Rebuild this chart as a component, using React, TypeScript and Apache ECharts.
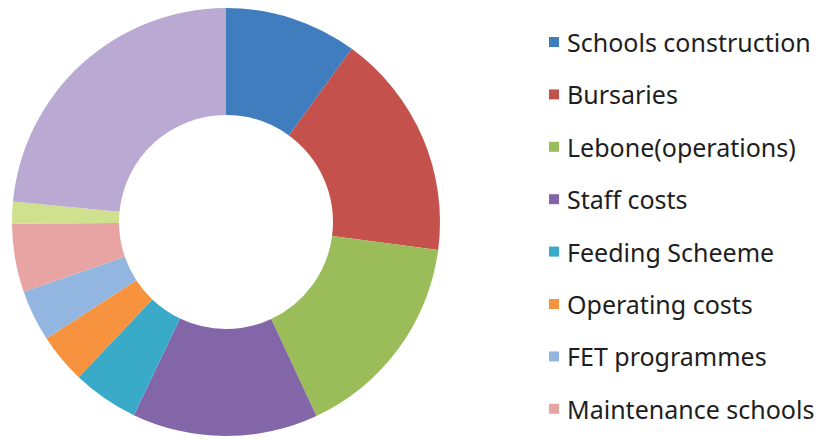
import React, { useEffect, useRef } from "react";
import * as echarts from "echarts";

const categories = [
  "Schools construction",
  "Bursaries",
  "Lebone(operations)",
  "Staff costs",
  "Feeding Scheeme",
  "Operating costs",
  "FET programmes",
  "Maintenance schools",
  "Other item 9",
  "Other item 10",
];
const legendNames = categories.slice(0, 8);
// slice sizes in degrees of the ring
const values = [36, 61.5, 57.5, 50.5, 18, 13.5, 14, 18.5, 6, 84.5];
const colors = [
  "#3F7DBE",
  "#C4514B",
  "#9BBD59",
  "#8366A8",
  "#39AAC8",
  "#F7933E",
  "#93B6E0",
  "#E8A3A3",
  "#CFE08F",
  "#B9A9D3",
];

export default function App() {
  const ref = useRef<HTMLDivElement>(null);
  useEffect(() => {
    if (!ref.current) return;
    const chart = echarts.init(ref.current, undefined, { renderer: "svg" });
    chart.setOption({
      animation: false,
      backgroundColor: "#ffffff",
      color: colors,
      legend: {
        orient: "vertical",
        left: 544,
        top: 24.5,
        data: legendNames,
        icon: "rect",
        itemWidth: 10,
        itemHeight: 10,
        itemGap: 27.4,
        textStyle: {
          fontFamily: "Noto Sans",
          fontSize: 25,
          lineHeight: 25,
          color: "#1e1e1e",
          padding: [0, 0, 0, 3],
        },
        selectedMode: false,
      },
      series: [
        {
          type: "pie",
          center: [226, 222],
          radius: [107, 214],
          startAngle: 90,
          clockwise: true,
          label: { show: false },
          labelLine: { show: false },
          emphasis: { disabled: true },
          itemStyle: { borderWidth: 0 },
          data: categories.map((name, i) => ({ name, value: values[i] })),
        },
      ],
    });
    return () => chart.dispose();
  }, []);
  return (
    <div
      ref={ref}
      style={{ position: "fixed", left: 0, top: 0, width: 816, height: 441 }}
    />
  );
}
